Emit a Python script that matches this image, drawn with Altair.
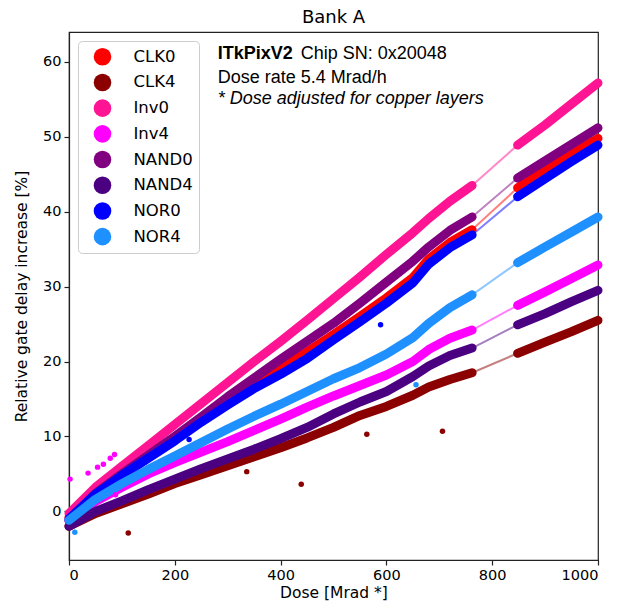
import altair as alt
import pandas as pd

# ---------------- data ----------------
SERIES = ["CLK0", "CLK4", "Inv0", "Inv4", "NAND0", "NAND4", "NOR0", "NOR4"]
COLORS = ["#ff0000", "#8b0000", "#ff1493", "#ff00ff", "#800080", "#4b0082", "#0000ff", "#1e90ff"]

LEFT_DOSE = [0, 50, 100, 150, 200, 250, 300, 350, 400, 450, 500, 550, 600, 650, 680, 720, 762]
RIGHT_DOSE = [848, 900, 950, 1000]

LEFT_VALUES = {
    "CLK0":  [-0.8, 2.5, 5.0, 7.4, 9.8, 12.3, 14.7, 17.0, 19.1, 21.3, 23.6, 26.0, 28.5, 31.2, 33.7, 35.9, 37.6],
    "CLK4":  [-2.0, -0.3, 1.0, 2.3, 3.7, 4.9, 6.1, 7.3, 8.5, 9.8, 11.2, 12.8, 14.0, 15.5, 16.6, 17.6, 18.5],
    "Inv0":  [-0.3, 3.2, 6.0, 8.8, 11.6, 14.4, 17.2, 20.0, 22.7, 25.5, 28.4, 31.3, 34.3, 37.2, 39.1, 41.4, 43.5],
    "Inv4":  [-1.3, 1.3, 3.2, 5.0, 6.5, 7.9, 9.3, 10.8, 12.3, 13.9, 15.4, 16.8, 18.2, 20.0, 21.6, 23.1, 24.2],
    "NAND0": [-1.2, 2.4, 5.0, 7.5, 10.0, 12.6, 15.3, 17.8, 20.3, 22.7, 25.1, 27.8, 30.6, 33.4, 35.3, 37.5, 39.3],
    "NAND4": [-2.0, 0.0, 1.4, 2.9, 4.3, 5.7, 7.0, 8.3, 9.7, 11.2, 13.0, 14.6, 16.0, 18.0, 19.4, 20.8, 21.8],
    "NOR0":  [-1.0, 2.3, 4.8, 7.1, 9.4, 11.9, 14.2, 16.4, 18.3, 20.4, 22.9, 25.3, 27.8, 30.5, 33.0, 35.2, 36.9],
    "NOR4":  [-1.2, 1.6, 3.7, 5.6, 7.4, 9.2, 11.0, 12.7, 14.3, 16.0, 17.7, 19.2, 21.0, 23.2, 25.1, 27.2, 28.9],
}
RIGHT_VALUES = {
    "CLK0":  [43.2, 45.5, 47.7, 49.8],
    "CLK4":  [21.1, 22.6, 24.0, 25.5],
    "Inv0":  [48.9, 51.6, 54.4, 57.2],
    "Inv4":  [27.5, 29.3, 31.1, 32.9],
    "NAND0": [44.5, 46.8, 49.0, 51.2],
    "NAND4": [24.9, 26.4, 28.0, 29.5],
    "NOR0":  [42.0, 44.4, 46.7, 48.9],
    "NOR4":  [33.2, 35.3, 37.3, 39.3],
}

# stray single measurements
OUT_SERIES = ["Inv4", "Inv4", "Inv4", "Inv4", "Inv4", "Inv4", "Inv4",
              "CLK4", "CLK4", "CLK4", "CLK4", "CLK4",
              "NOR0", "NOR0", "NOR4", "NOR4"]
OUT_DOSE = [2, 36, 54, 65, 78, 86, 88,
            112, 336, 439, 563, 706,
            227, 589, 656, 11]
OUT_VALUE = [4.3, 5.1, 5.9, 6.3, 7.1, 7.6, 2.2,
             -2.9, 5.3, 3.6, 10.3, 10.7,
             9.6, 24.9, 16.9, -2.8]

X_TICKS = [0, 200, 400, 600, 800, 1000]
Y_TICKS = [0, 10, 20, 30, 40, 50, 60]

# ---------------- tables ----------------
rows = []
for s in SERIES:
    for d, v in zip(LEFT_DOSE, LEFT_VALUES[s]):
        rows.append({"series": s, "dose": d, "value": v, "seg": s + "_a"})
    for d, v in zip(RIGHT_DOSE, RIGHT_VALUES[s]):
        rows.append({"series": s, "dose": d, "value": v, "seg": s + "_b"})
df = pd.DataFrame(rows)
out_df = pd.DataFrame({"series": OUT_SERIES, "dose": OUT_DOSE, "value": OUT_VALUE})

FONT = "DejaVu Sans"
x_enc = alt.X("dose:Q", scale=alt.Scale(domain=[0, 1000], nice=False, zero=False),
              axis=alt.Axis(values=X_TICKS, format="d", title="Dose [Mrad *]", grid=False))
y_enc = alt.Y("value:Q", scale=alt.Scale(domain=[-6.5, 64], nice=False, zero=False),
              axis=alt.Axis(values=Y_TICKS, format="d", title="Relative gate delay increase [%]",
                            grid=False))

color_scale = alt.Scale(domain=SERIES, range=COLORS)
legend = alt.Legend(title=None, orient="top-left", offset=9,
                    symbolType="circle", symbolSize=310, symbolOpacity=1, symbolStrokeWidth=0,
                    labelFont=FONT, labelFontSize=16.5, labelColor="black",
                    clipHeight=19.5, rowPadding=5.7, padding=6, symbolOffset=9.5, labelOffset=22,
                    strokeColor="#cccccc", fillColor="white", cornerRadius=4)

fits = alt.Chart(df).mark_line(strokeWidth=2, opacity=0.5).encode(
    x=x_enc, y=y_enc,
    color=alt.Color("series:N", scale=color_scale, legend=legend),
    detail="series:N",
)

bands = alt.Chart(df).mark_line(strokeWidth=9, strokeCap="round", strokeJoin="round").encode(
    x="dose:Q", y="value:Q",
    color=alt.Color("series:N", scale=color_scale, legend=legend),
    detail="seg:N",
)

outliers = alt.Chart(out_df).mark_circle(size=30, opacity=1).encode(
    x="dose:Q", y="value:Q",
    color=alt.Color("series:N", scale=color_scale, legend=legend),
)

def label(txt, x, y, bold=False, italic=False):
    return alt.Chart(pd.DataFrame({"t": [txt]})).mark_text(
        align="left", baseline="alphabetic", font="Liberation Sans", fontSize=18,
        fontWeight="bold" if bold else "normal",
        fontStyle="italic" if italic else "normal", color="black",
    ).encode(x=alt.datum(x), y=alt.datum(y), text="t:N")

texts = (label("ITkPixV2", 281.1, 60.35, bold=True)
         + label("Chip SN: 0x20048", 438.0, 60.35)
         + label("Dose rate 5.4 Mrad/h", 281.1, 57.15)
         + label("* Dose adjusted for copper layers", 281.1, 54.35, italic=True))

chart = alt.layer(fits, bands, outliers, texts).properties(
    width=529, height=528,
    title=alt.TitleParams("Bank A", fontSize=18, font=FONT, fontWeight="normal",
                          offset=5, anchor="middle", color="black"),
    autosize=alt.AutoSizeParams(type="none"),
    padding={"left": 69, "top": 32, "right": 20, "bottom": 49},
).configure_view(
    stroke="#222222", strokeWidth=1.2
).configure_axis(
    labelFont=FONT, titleFont=FONT, labelFontSize=14.5, titleFontSize=15.5,
    labelColor="black", titleColor="black", titleFontWeight="normal",
    domainColor="#222222", tickColor="#222222", tickSize=5, labelPadding=3,
    domainWidth=1.2, tickWidth=1.2,
).configure_axisX(titlePadding=4).configure_axisY(titlePadding=13)

chart.save("out.html", embed_options={"renderer": "svg", "actions": False})
